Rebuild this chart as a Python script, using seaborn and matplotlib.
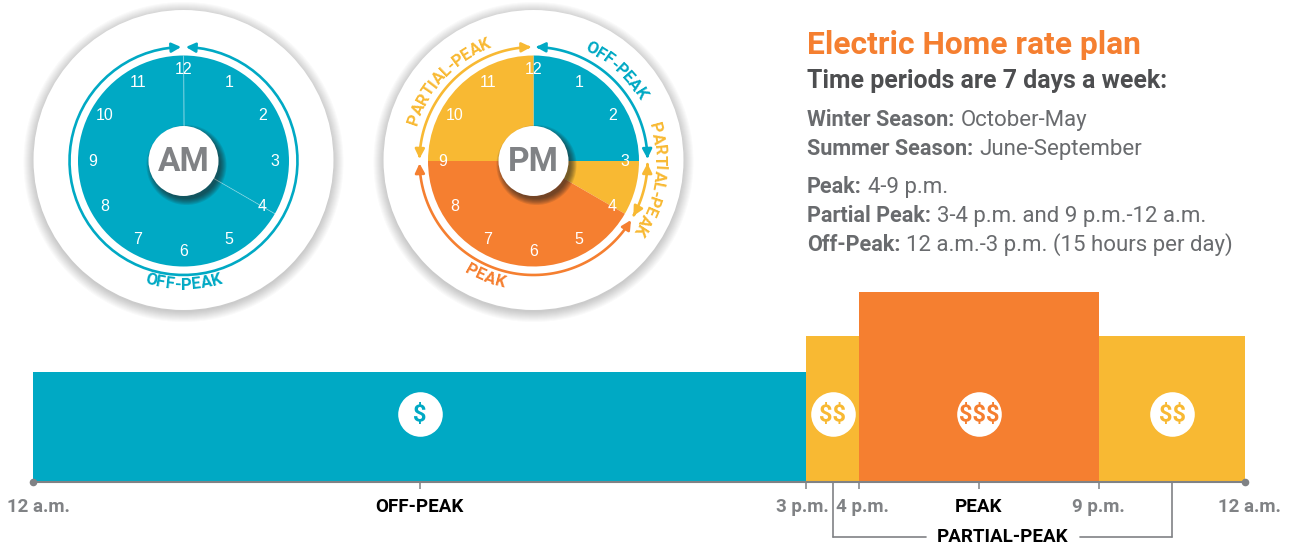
import numpy as np
import pandas as pd
import matplotlib
matplotlib.use("Agg")
import matplotlib.pyplot as plt
import seaborn as sns
from matplotlib.font_manager import FontProperties
from matplotlib.patches import Circle, FancyArrowPatch
from matplotlib.path import Path
from matplotlib.textpath import TextToPath
from matplotlib.transforms import ScaledTranslation

TEAL = "#00a9c4"
YELLOW = "#f8b933"
ORANGE = "#f57f30"
GREY = "#808285"
DARK = "#4d4e50"
TEXT = "#696b6e"
FONT = "Roboto"

# day bar
period_start = [0, 15, 16, 21]
period_level = [110, 146, 190, 146]
period_name = ["off", "partial", "peak", "partial"]
period_cost = ["$", "$$", "$$$", "$$"]
period_mid = [7.5, 15.5, 18.5, 22.5]
bin_edges = [0, 15, 16, 21, 24]
edge_labels = ["12 a.m.", "3 p.m.", "4 p.m.", "9 p.m.", "12 a.m."]
mid_hours = [7.5, 18.5]
mid_labels = ["OFF-PEAK", "PEAK"]
colors = {"off": TEAL, "partial": YELLOW, "peak": ORANGE}

# clocks
am_hours = [4, 8]
am_colors = [TEAL, TEAL]
pm_hours = [3, 1, 5, 3]
pm_colors = [TEAL, YELLOW, ORANGE, YELLOW]
am_arcs = [(0, 12, TEAL)]
pm_arcs = [(0, 3, TEAL), (3, 4, YELLOW), (4, 9, ORANGE), (9, 12, YELLOW)]
am_labels = [("OFF-PEAK", 6.0, 124, TEAL)]
pm_labels = [
    ("OFF-PEAK", 1.42, 126, TEAL),
    ("PARTIAL-PEAK", 3.3, 126, YELLOW),
    ("PEAK", 6.75, 126, ORANGE),
    ("PARTIAL-PEAK", 10.45, 126, YELLOW),
]

# text block: (y, bold part, regular part)
info_lines = [
    (126, "Winter Season:", "October-May"),
    (155, "Summer Season:", "June-September"),
    (193, "Peak:", "4-9 p.m."),
    (222, "Partial Peak:", "3-4 p.m. and 9 p.m.-12 a.m."),
    (251, "Off-Peak:", "12 a.m.-3 p.m. (15 hours per day)"),
]


def polar(hour, r):
    a = np.radians(90 - 30 * np.asarray(hour, dtype=float))
    return r * np.cos(a), r * np.sin(a)


def curved_text(ax, s, hour, r, color, size=12):
    prop = FontProperties(family=FONT, weight="bold", size=size)
    ttp = TextToPath()
    width = lambda t: ttp.get_text_width_height_descent(t, prop, False)[0] * 100 / 72
    total = width(s)
    # lower half of the dial reads with letter tops towards the centre
    flip = 3.5 < hour % 12 < 8.5
    for i, ch in enumerate(s):
        pos = width(s[:i]) + width(ch) / 2 - total / 2
        dh = pos / r * 6 / np.pi
        h = hour - dh if flip else hour + dh
        x, y = polar(h, r)
        rot = 180 - 30 * h if flip else -30 * h
        ax.text(x, y, ch, color=color, fontproperties=prop, rotation=rot,
                rotation_mode="anchor", ha="center", va="center")


def draw_clock(cx, cy, name, values, wedge_colors, arcs, labels):
    ax = fig.add_axes([(cx - 170) / W, (H - cy - 170) / H, 340 / W, 340 / H])
    ax.pie(values, colors=wedge_colors, startangle=90, counterclock=False,
           radius=105.5, wedgeprops={"linewidth": 0, "zorder": 3})
    ax.set_xlim(-170, 170)
    ax.set_ylim(-170, 170)
    ax.axis("off")

    # soft shadows
    for r in np.linspace(160, 150, 11):
        ax.add_patch(Circle((0, -1), r, color="#303030", alpha=0.022, lw=0, zorder=1))
    ax.add_patch(Circle((0, 1), 150, color="white", lw=0, zorder=2))
    for r in np.linspace(40, 34, 7):
        ax.add_patch(Circle((3, -4), r, color="#202020", alpha=0.12, lw=0, zorder=4))
    ax.add_patch(Circle((0, 0), 35, color="white", lw=0, zorder=5))
    ax.text(0, -1, name, color=GREY, family=FONT, weight="bold", size=24,
            ha="center", va="center", zorder=6)

    if name == "AM":
        for h in np.cumsum(values):
            x, y = polar(h, np.array([35, 105.5]))
            ax.plot(x, y, color="white", alpha=0.3, lw=0.7, zorder=4)

    for h in range(1, 13):
        x, y = polar(h, 91)
        ax.text(x, y, str(h), color="white", family="Liberation Sans", size=11.5,
                ha="center", va="center", zorder=6)

    for start, end, color in arcs:
        hh = np.linspace(start + 0.04, end - 0.04, 80)
        x, y = polar(hh, 114)
        ax.add_patch(FancyArrowPatch(
            path=Path(np.column_stack([x, y])),
            arrowstyle="<|-|>,head_length=5.5,head_width=2.8",
            mutation_scale=1, color=color, lw=1.9, zorder=3))

    for s, hour, r, color in labels:
        curved_text(ax, s, hour, r, color)


W, H = 1289, 548
sns.set_theme(style="white")
plt.rcParams["font.family"] = [FONT, "DejaVu Sans"]
fig = plt.figure(figsize=(W / 100, H / 100), dpi=100, facecolor="white")

# text layer, in pixels of the figure
page = fig.add_axes([0, 0, 1, 1])
page.set_xlim(0, W)
page.set_ylim(H, 0)
page.axis("off")
page.text(807, 54, "Electric Home rate plan", color=ORANGE, weight="bold", size=22.9,
          va="baseline")
page.text(807, 88, "Time periods are 7 days a week:", color=DARK, weight="bold", size=17.9,
          va="baseline")
for y, head, rest in info_lines:
    t = page.text(807, y, head, color=TEXT, weight="bold", size=15.6, va="baseline")
    end = t.get_window_extent(fig.canvas.get_renderer()).x1
    page.text(end + 6, y, rest, color=TEXT, size=16, va="baseline")

# day bar
ax = fig.add_axes([33 / W, (H - 482) / H, 1212 / W, 190 / H])
ax.set_facecolor("none")
df = pd.DataFrame({"start": period_start, "level": period_level, "period": period_name})
sns.histplot(data=df, x="start", weights="level", hue="period", bins=bin_edges,
             palette=colors, alpha=1, linewidth=0, multiple="layer", legend=False, ax=ax)
sns.scatterplot(x=period_mid, y=[68] * 4, s=1030, color="white", linewidth=0, ax=ax, zorder=4)
for mid, cost, name in zip(period_mid, period_cost, period_name):
    ax.text(mid, 67, cost, color=colors[name], weight="bold", size=17,
            ha="center", va="center", zorder=5, parse_math=False)

# hours on a piecewise axis since the widths in the picture are not to scale,
# set after the seaborn calls because seaborn would rescale its input otherwise
bar_px = [0, 773, 826, 1066, 1212]
ax.set_xscale("function", functions=(
    lambda v: np.interp(v, bin_edges, bar_px),
    lambda v: np.interp(v, bar_px, bin_edges),
))
ax.set_xlim(0, 24)
ax.set_ylim(0, 190)
ax.set(xlabel="", ylabel="", yticks=[])
sns.despine(ax=ax, left=True)
ax.spines["bottom"].set_color(GREY)
ax.spines["bottom"].set_linewidth(1.5)

ax.set_xticks(bin_edges, edge_labels)
ax.set_xticks(mid_hours, mid_labels, minor=True)
ax.tick_params(axis="x", which="major", bottom=True, direction="inout", length=10, width=1.1,
               color=GREY, labelcolor=GREY, labelsize=13.5, pad=6.4)
ax.tick_params(axis="x", which="minor", bottom=True, direction="out", length=5, width=1.1,
               color=GREY, labelcolor="black", labelsize=13.5, pad=6.4)
for lab in ax.get_xticklabels() + ax.get_xticklabels(minor=True):
    lab.set_fontweight("bold")
major = ax.get_xticklabels()
for lab, dx in zip(major, [5, -4, 3, -1, 4]):
    lab.set_transform(lab.get_transform() + ScaledTranslation(dx / 100, 0, fig.dpi_scale_trans))
ax.xaxis.get_major_ticks()[0].tick1line.set_visible(False)
ax.xaxis.get_major_ticks()[-1].tick1line.set_visible(False)
ax.scatter([0, 24], [0, 0], s=30, color=GREY, linewidth=0, clip_on=False, zorder=6)

# partial-peak bracket
ax.plot([15.5, 15.5], [0, -55], color=GREY, lw=1.2, clip_on=False)
ax.plot([22.5, 22.5], [0, -55], color=GREY, lw=1.2, clip_on=False)
ax.plot([15.5, 17.4], [-55, -55], color=GREY, lw=1.2, clip_on=False)
ax.plot([20.6, 22.5], [-55, -55], color=GREY, lw=1.2, clip_on=False)
ax.text(19.0, -55, "PARTIAL-PEAK", color="black", weight="bold", size=13.5,
        ha="center", va="center", clip_on=False)

draw_clock(183.5, 161, "AM", am_hours, am_colors, am_arcs, am_labels)
draw_clock(533.5, 161, "PM", pm_hours, pm_colors, pm_arcs, pm_labels)

fig.savefig("out.png", dpi=100)
